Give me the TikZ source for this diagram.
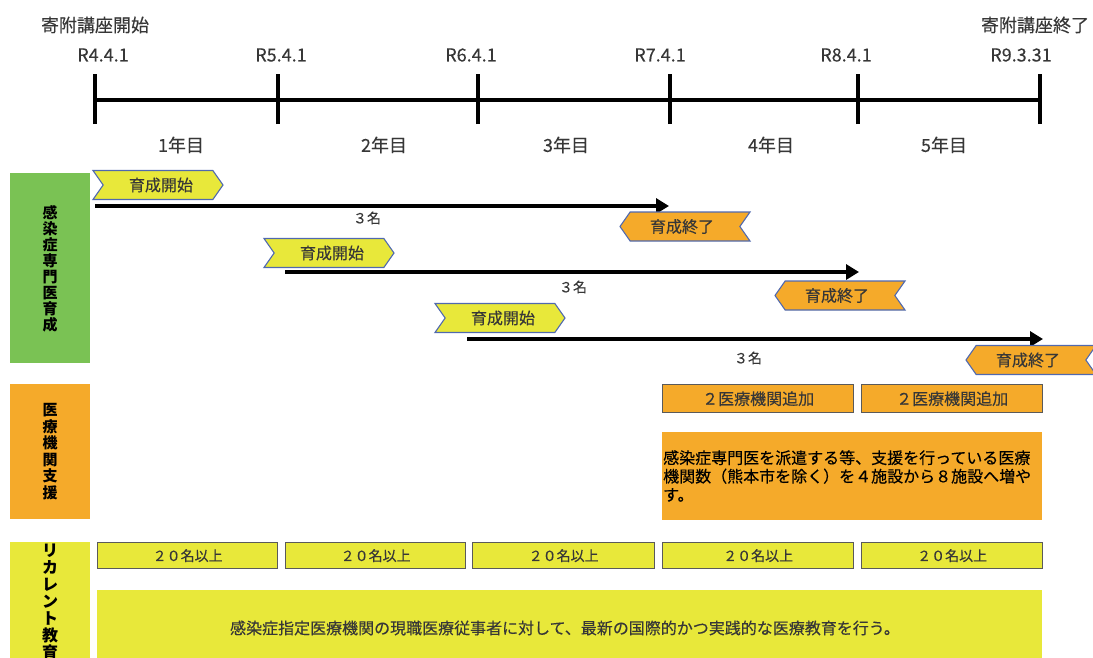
\documentclass[tikz,border=0pt]{standalone}
\usepackage{fontspec}
\setmainfont{Noto Sans CJK JP}[UprightFeatures={FakeBold=0.3}]
\usetikzlibrary{shapes.symbols,arrows.meta}
\definecolor{cgreen}{RGB}{122,194,84}
\definecolor{corange}{RGB}{245,170,42}
\definecolor{cyellow}{RGB}{232,232,58}
\definecolor{cblue}{RGB}{80,105,175}
\definecolor{ctext}{RGB}{55,55,55}
\definecolor{cframe}{RGB}{90,90,90}
\begin{document}
\begin{tikzpicture}[x=1pt,y=-1pt,
  tl/.style={font=\fontsize{18}{20}\selectfont, text=ctext},
  tick/.style={line width=4pt},
  startchev/.style={signal, signal to=east, signal from=west, signal pointer angle=110,
     draw=cblue, line width=1.1pt, fill=cyellow, minimum width=130, minimum height=29,
     inner sep=0pt, font=\fontsize{16}{18}\selectfont, text=ctext},
  endchev/.style={signal, signal to=west, signal from=east, signal pointer angle=110,
     draw=cblue, line width=1.1pt, fill=corange, minimum width=130, minimum height=29,
     inner sep=0pt, font=\fontsize{16}{18}\selectfont, text=ctext},
  arr/.style={line width=4.5pt, -{Triangle[length=13pt,width=15pt]}},
  cnt/.style={font=\fontsize{14}{16}\selectfont, text=ctext},
  sidebox/.style={minimum width=80, inner sep=0pt, anchor=north west},
  vlabel/.style={font=\bfseries\fontsize{15}{16}\selectfont, align=center, text=black},
  smallbox/.style={draw=cframe, line width=1.3pt, inner sep=0pt, anchor=north west,
     font=\fontsize{16}{18}\selectfont, text=ctext}
]
\useasboundingbox (0,0) rectangle (1093,657);

% timeline
\coordinate (t0) at (95,100);
\coordinate (t1) at (278,100);
\coordinate (t2) at (478,100);
\coordinate (t3) at (670,100);
\coordinate (t4) at (858,100);
\coordinate (t5) at (1040,100);
\draw[tick] (t0) -- (t5);
\foreach \t in {t0,t1,t2,t3,t4,t5}{
  \draw[tick] ([yshift=-24pt]\t) -- ([yshift=26pt]\t);
}
\node[tl] (kstart) at (95,25) {寄附講座開始};
\node[tl] (kend) at (1035,25) {寄附講座終了};
\node[tl] (d0) at (103,55) {R4.4.1};
\node[tl] (d1) at (281,55) {R5.4.1};
\node[tl] (d2) at (471,55) {R6.4.1};
\node[tl] (d3) at (660,55) {R7.4.1};
\node[tl] (d4) at (846,55) {R8.4.1};
\node[tl] (d5) at (1021,55) {R9.3.31};
\node[tl] (y1) at (181,145) {1年目};
\node[tl] (y2) at (384,145) {2年目};
\node[tl] (y3) at (566,145) {3年目};
\node[tl] (y4) at (771,145) {4年目};
\node[tl] (y5) at (944,145) {5年目};

% left side labels
\node[sidebox, fill=cgreen, minimum height=190] (gbox) at (10,173) {};
\node[vlabel] (glab) at (50,269) {感\\染\\症\\専\\門\\医\\育\\成};
\node[sidebox, fill=corange, minimum height=135] (obox) at (10,384) {};
\node[vlabel, font=\bfseries\fontsize{15}{16.5}\selectfont] (olab) at (obox.center) {医\\療\\機\\関\\支\\援};
\node[sidebox, fill=cyellow, minimum height=130] (ybox) at (10,542) {};
\node[vlabel, anchor=north, font=\bfseries\fontsize{16}{17}\selectfont] (ylab) at (50,540) {リ\\カ\\レ\\ン\\ト\\教\\育};

% row 1
\node[startchev] (s1) at (158,185) {\hspace*{6pt}育成開始};
\coordinate (a1s) at (95,206);
\coordinate (a1e) at (669,206);
\draw[arr] (a1s) -- (a1e);
\node[cnt] (n1) at (367,218) {３名};
\node[endchev] (e1) at (685,226.5) {育成終了\hspace*{6pt}};

% row 2
\node[startchev] (s2) at (329,253) {\hspace*{6pt}育成開始};
\coordinate (a2s) at (285,272);
\coordinate (a2e) at (859,272);
\draw[arr] (a2s) -- (a2e);
\node[cnt] (n2) at (573,287) {３名};
\node[endchev] (e2) at (840,295.5) {育成終了\hspace*{6pt}};

% row 3
\node[startchev] (s3) at (500,318) {\hspace*{6pt}育成開始};
\coordinate (a3s) at (467,339);
\coordinate (a3e) at (1043,339);
\draw[arr] (a3s) -- (a3e);
\node[cnt] (n3) at (748,358) {３名};
\node[endchev] (e3) at (1031,360) {育成終了\hspace*{6pt}};

% medical institution support
\node[smallbox, fill=corange, minimum width=191, minimum height=28] (m1) at (662,384) {２医療機関追加};
\node[smallbox, fill=corange, minimum width=181, minimum height=28] (m2) at (861,384) {２医療機関追加};
\node[fill=corange, anchor=north west, minimum width=380, minimum height=88, inner sep=0pt] (mbig) at (662,432) {};
\node[anchor=west, align=left, inner sep=0pt, font=\fontsize{16}{18.5}\selectfont, text=black] (mtext) at (663,476)
  {感染症専門医を派遣する等、支援を行っている医療\\機関数（熊本市を除く）を４施設から８施設へ増や\\す。};

% recurrent education
\node[smallbox, fill=cyellow, minimum width=180, minimum height=26, font=\fontsize{14}{16}\selectfont] (r1) at (97,542) {２０名以上};
\node[smallbox, fill=cyellow, minimum width=180, minimum height=26, font=\fontsize{14}{16}\selectfont] (r2) at (285,542) {２０名以上};
\node[smallbox, fill=cyellow, minimum width=182, minimum height=26, font=\fontsize{14}{16}\selectfont] (r3) at (472,542) {２０名以上};
\node[smallbox, fill=cyellow, minimum width=191, minimum height=26, font=\fontsize{14}{16}\selectfont] (r4) at (662,542) {２０名以上};
\node[smallbox, fill=cyellow, minimum width=181, minimum height=26, font=\fontsize{14}{16}\selectfont] (r5) at (861,542) {２０名以上};
\node[fill=cyellow, anchor=north west, minimum width=945, minimum height=80, inner sep=0pt] (rbig) at (97,590) {};
\node[font=\fontsize{16}{18}\selectfont, text=ctext] (rtext) at (565,628)
  {感染症指定医療機関の現職医療従事者に対して、最新の国際的かつ実践的な医療教育を行う。};
\end{tikzpicture}
\end{document}
